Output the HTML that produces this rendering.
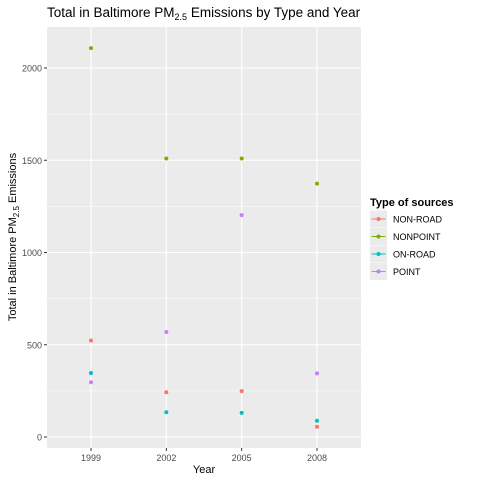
<!DOCTYPE html>
<html><head><meta charset="utf-8"><style>
body{margin:0;background:#fff;font-family:"Liberation Sans",Arial,sans-serif}
</style></head><body>
<svg width="480" height="480" xmlns="http://www.w3.org/2000/svg" font-family="Liberation Sans, Arial, sans-serif">
<rect width="480" height="480" fill="#fff"/>
<g id="plot"></g>
</svg>
<script>
const years=["1999","2002","2005","2008"];
const yTicks=[0,500,1000,1500,2000];
const seriesNames=["NON-ROAD","NONPOINT","ON-ROAD","POINT"];
const nonRoad=[522.94,242.85,248.93,55.82];
const nonPoint=[2107.6,1509.5,1509.5,1373.2];
const onRoad=[346.82,134.31,130.43,88.28];
const pointSrc=[296.8,569.26,1202.49,344.98];
const colors=["#F8766D","#7CAE00","#00BFC4","#C77CFF"];
const allSeries=[nonRoad,nonPoint,onRoad,pointSrc];

const NS="http://www.w3.org/2000/svg";
const g=document.getElementById('plot');
function mk(t,a,p){const e=document.createElementNS(NS,t);for(const k in a)e.setAttribute(k,a[k]);(p||g).appendChild(e);return e;}
const L=47,R=361,T=27,B=448;
const y=v=>437-v*(437-68)/2000;
const x=i=>91+i*(317-91)/3;
const panel=mk('rect',{x:L,y:T,width:R-L,height:B-T,fill:'#EBEBEB'});


for(let v=250;v<=2250;v+=500){if(y(v)>T)mk('line',{x1:L,x2:R,y1:y(v),y2:y(v),stroke:'#fff','stroke-width':0.5});}
yTicks.forEach(v=>{
  const ln=mk('line',{x1:L,x2:R,y1:y(v),y2:y(v),stroke:'#fff','stroke-width':1.1});
  
  
  mk('line',{x1:L-3,x2:L,y1:y(v),y2:y(v),stroke:'#333','stroke-width':1});
  const t=mk('text',{x:L-5,y:y(v)+3.5,'text-anchor':'end','font-size':9,fill:'#4d4d4d'});t.textContent=v;
  
  
});
years.forEach((yr,i)=>{
  const ln=mk('line',{x1:x(i),x2:x(i),y1:T,y2:B,stroke:'#fff','stroke-width':1.1});
  
  
  mk('line',{x1:x(i),x2:x(i),y1:B,y2:B+3,stroke:'#333','stroke-width':1});
  const t=mk('text',{x:x(i),y:B+13,'text-anchor':'middle','font-size':9,fill:'#4d4d4d'});t.textContent=yr;
  
  
});
allSeries.forEach((s,si)=>{
  s.forEach((v,i)=>{
    const c=mk('circle',{cx:x(i),cy:y(v),r:2,fill:colors[si]});
    
    
  });
});
// titles
const tt=mk('text',{x:47,y:17,'font-size':13.5,fill:'#000'});
tt.innerHTML='Total in Baltimore  PM<tspan font-size="9" dy="3">2.5</tspan><tspan dy="-3"> Emissions by Type and Year</tspan>';


const xt=mk('text',{x:204,y:473,'text-anchor':'middle','font-size':11,fill:'#000'});xt.textContent='Year';


const yt=mk('text',{x:0,y:0,'text-anchor':'middle','font-size':11,fill:'#000',transform:'translate(16,237) rotate(-90)'});
yt.innerHTML='Total in Baltimore PM<tspan font-size="8" dy="3">2.5</tspan><tspan dy="-3"> Emissions</tspan>';


// legend
const lg=mk('g',{});


const lt=mk('text',{x:370,y:206,'font-size':11,'font-weight':'bold',fill:'#000'},lg);lt.textContent='Type of sources';


seriesNames.forEach((n,i)=>{
  const cy=219+i*17.5;
  const e=mk('g',{},lg);
  
  
  mk('rect',{x:370,y:cy-8.5,width:17,height:17,fill:'#EBEBEB'},e);
  mk('line',{x1:371.5,x2:385.5,y1:cy,y2:cy,stroke:colors[i],'stroke-width':1},e);
  mk('circle',{cx:378.5,cy:cy,r:2,fill:colors[i]},e);
  const t=mk('text',{x:393,y:cy+3.5,'font-size':9,fill:'#000'},e);t.textContent=n;
});
</script>
</body></html>
